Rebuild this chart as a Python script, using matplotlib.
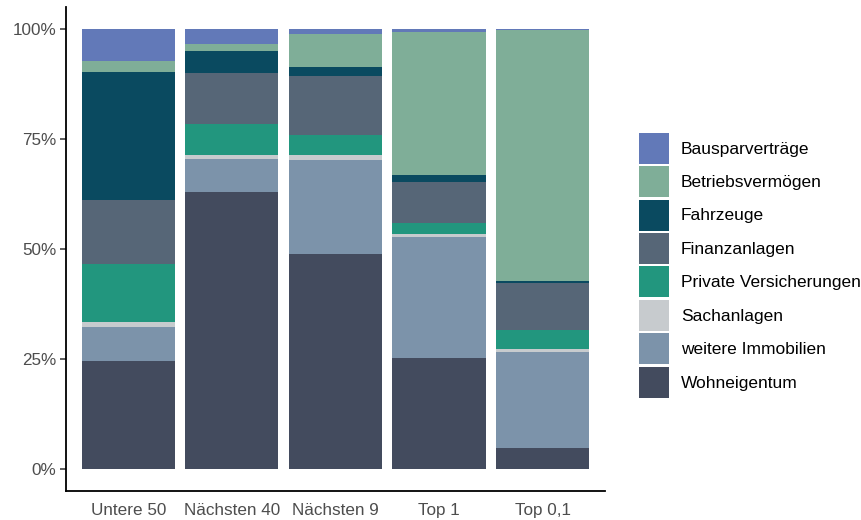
# coding: utf-8

import numpy
import matplotlib
matplotlib.use("Agg")
import matplotlib.pyplot as plt
from matplotlib.patches import Patch

plt.rcParams['font.family'] = ['Liberation Sans', 'DejaVu Sans']

groups = ["Untere 50", "Nächsten 40", "Nächsten 9", "Top 1", "Top 0,1"]

# shares in percent, bottom to top of the stack
wohneigentum = [24.5, 63.0, 48.9, 25.2, 4.8]
weitere_immobilien = [7.7, 7.5, 21.3, 27.6, 21.8]
sachanlagen = [1.1, 0.9, 1.1, 0.7, 0.7]
private_versicherungen = [13.2, 7.0, 4.5, 2.5, 4.3]
finanzanlagen = [14.7, 11.6, 13.6, 9.3, 10.7]
fahrzeuge = [29.0, 5.0, 2.0, 1.4, 0.5]
betriebsvermoegen = [2.5, 1.6, 7.5, 32.6, 57.0]
bausparvertraege = [7.3, 3.4, 1.1, 0.7, 0.2]

categories = ["Wohneigentum", "weitere Immobilien", "Sachanlagen", "Private Versicherungen",
              "Finanzanlagen", "Fahrzeuge", "Betriebsvermögen", "Bausparverträge"]
series = [wohneigentum, weitere_immobilien, sachanlagen, private_versicherungen,
          finanzanlagen, fahrzeuge, betriebsvermoegen, bausparvertraege]
colors = ["#434b5e", "#7c93aa", "#c7cbce", "#22967e",
          "#566677", "#0a4a60", "#7fae98", "#6279b8"]

fig = plt.figure(figsize=(8.62, 5.2), dpi=100)
ax = fig.add_axes([0.0766, 0.0558, 0.625, 0.931])

x = numpy.arange(1, len(groups) + 1)
bottom = numpy.zeros(len(groups))
for name, values, color in zip(categories, series, colors):
    vals = numpy.array(values, dtype=float)
    ax.bar(x, vals, bottom=bottom, width=0.9, color=color, linewidth=0)
    bottom = bottom + vals

ax.set_xlim(0.4, 5.6)
ax.set_ylim(-5, 105)
ax.set_xticks(x)
ax.set_xticklabels(groups)
ax.set_yticks([0, 25, 50, 75, 100])
ax.set_yticklabels(["0%", "25%", "50%", "75%", "100%"])

for side in ["top", "right"]:
    ax.spines[side].set_visible(False)
for side in ["left", "bottom"]:
    ax.spines[side].set_linewidth(1.3)
    ax.spines[side].set_color("black")

ax.tick_params(axis="y", length=4, width=1.1, color="#333333", labelsize=12.3, labelcolor="#4d4d4d", pad=3)
ax.tick_params(axis="x", length=0, labelsize=12.3, labelcolor="#4d4d4d", pad=9)

handles = [Patch(facecolor=c, edgecolor="none", label=n) for n, c in zip(categories, colors)][::-1]
fig.legend(handles=handles, loc="center left", bbox_to_anchor=(0.741, 0.49),
           frameon=False, fontsize=12.5, handlelength=1.73, handleheight=2.37,
           labelspacing=0.14, handletextpad=0.69, borderpad=0, borderaxespad=0)

fig.savefig("out.png", dpi=100)
